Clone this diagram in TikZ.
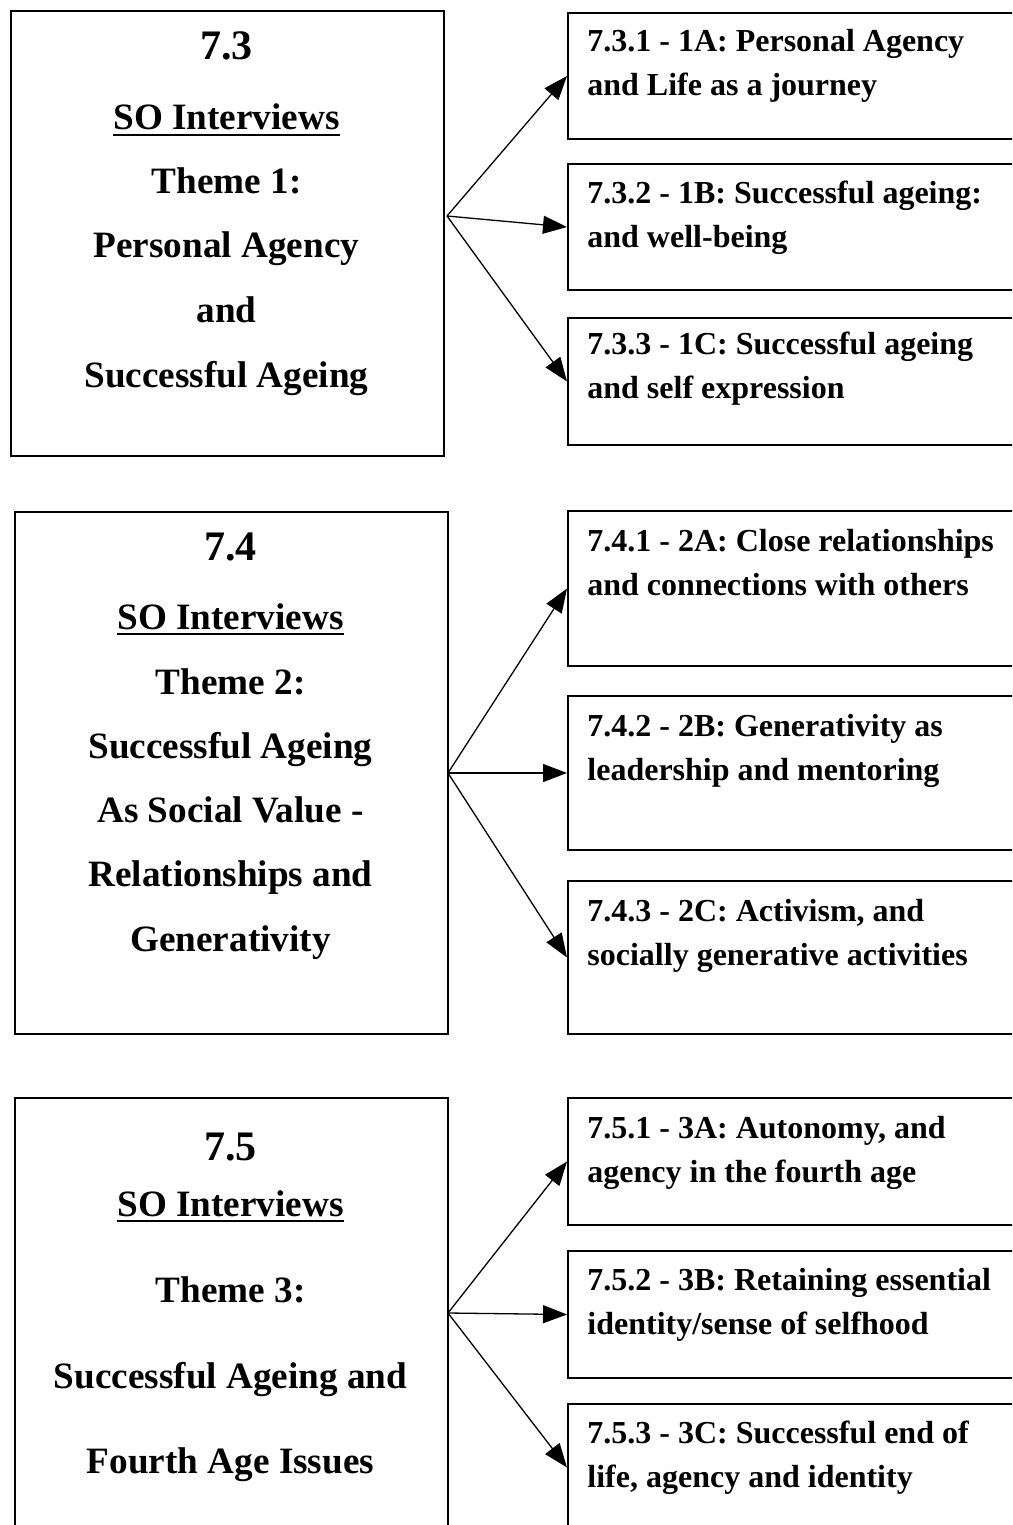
\documentclass[tikz,border=0pt]{standalone}
\usepackage{fontspec}
\setmainfont{Liberation Serif}
\usetikzlibrary{arrows.meta}

\newcommand{\thmline}[1]{\setbox0=\hbox{#1}\rlap{\rule[-2.8pt]{\wd0}{1pt}}\box0}

\tikzset{
  leftbox/.style={draw, line width=1pt, minimum width=216.5pt, anchor=north west, inner sep=0pt},
  subbox/.style={draw, line width=1pt, minimum width=231.5pt, anchor=north west, inner sep=0pt},
  headtxt/.style={font=\bfseries\fontsize{21}{24}\selectfont, anchor=base, inner sep=0pt},
  themetxt/.style={font=\bfseries\fontsize{18.6}{22}\selectfont, anchor=base, inner sep=0pt},
  subtxt/.style={font=\bfseries\fontsize{16}{20}\selectfont, anchor=base west, inner sep=0pt},
  link/.style={->, >={Triangle[length=12pt,width=9pt]}, line width=0.65pt}
}

\begin{document}
\begin{tikzpicture}[x=0.5pt,y=-0.5pt]
\useasboundingbox (0,0) rectangle (1012,1525);
\clip (0,0) rectangle (1012,1525);

% theme boxes
\node[leftbox, minimum height=222.5pt] (th1) at (10,10) {};
\node[leftbox, minimum height=261pt] (th2) at (14,511) {};
\node[leftbox, minimum height=261pt] (th3) at (14,1097) {};

% theme 1
\node[headtxt] (th1-0) at (226.5,60) {7.3};
\node[themetxt] (th1-1) at (226.5,130) {\thmline{SO Interviews}};
\node[themetxt] (th1-2) at (226.5,193) {Theme 1:};
\node[themetxt] (th1-3) at (226.5,257) {Personal Agency};
\node[themetxt] (th1-4) at (226.5,322) {and};
\node[themetxt] (th1-5) at (226.5,387) {Successful Ageing};

% theme 2
\node[headtxt] (th2-0) at (230.5,560) {7.4};
\node[themetxt] (th2-1) at (230.5,629) {\thmline{SO Interviews}};
\node[themetxt] (th2-2) at (230.5,694) {Theme 2:};
\node[themetxt] (th2-3) at (230.5,758) {Successful Ageing};
\node[themetxt] (th2-4) at (230.5,822) {As Social Value -};
\node[themetxt] (th2-5) at (230.5,886) {Relationships and};
\node[themetxt] (th2-6) at (230.5,951) {Generativity};

% theme 3
\node[headtxt] (th3-0) at (230.5,1160) {7.5};
\node[themetxt] (th3-1) at (230.5,1216) {\thmline{SO Interviews}};
\node[themetxt] (th3-2) at (230.5,1302) {Theme 3:};
\node[themetxt] (th3-3) at (230.5,1388) {Successful Ageing and};
\node[themetxt] (th3-4) at (230.5,1473) {Fourth Age Issues};

% sub-theme boxes
\node[subbox, minimum height=63pt] (r11) at (567,12) {};
\node[subbox, minimum height=63pt] (r12) at (567,163) {};
\node[subbox, minimum height=63.5pt] (r13) at (567,317) {};
\node[subbox, minimum height=77.5pt] (r21) at (567,510) {};
\node[subbox, minimum height=77pt] (r22) at (567,695) {};
\node[subbox, minimum height=76.5pt] (r23) at (567,880) {};
\node[subbox, minimum height=63.5pt] (r31) at (567,1097) {};
\node[subbox, minimum height=63.5pt] (r32) at (567,1250) {};
\node[subbox, minimum height=63.5pt] (r33) at (567,1403) {};

\foreach \n/\y/\a/\b in {
  r11/52/{7.3.1 - 1A: Personal Agency}/{and Life as a journey},
  r12/203/{7.3.2 - 1B: Successful ageing:}/{and well-being},
  r13/354/{7.3.3 - 1C: Successful ageing}/{and self expression},
  r21/551/{7.4.1 - 2A: Close relationships}/{and connections with others},
  r22/736/{7.4.2 - 2B: Generativity as}/{leadership and mentoring},
  r23/921/{7.4.3 - 2C: Activism, and}/{socially generative activities},
  r31/1138/{7.5.1 - 3A: Autonomy, and}/{agency in the fourth age},
  r32/1290/{7.5.2 - 3B: Retaining essential}/{identity/sense of selfhood},
  r33/1443/{7.5.3 - 3C: Successful end of}/{life, agency and identity}}
{
  \node[subtxt] (\n-a) at (587,\y) {\a};
  \node[subtxt] (\n-b) at (587,\y+44) {\b};
}

% fan-out points
\coordinate (o1) at (447,216);
\coordinate (o2) at (448,773);
\coordinate (o3) at (448,1313);

\foreach \from/\to in {o1/r11,o1/r12,o1/r13,o2/r21,o2/r22,o2/r23,o3/r31,o3/r32,o3/r33}
\draw[link] (\from) -- (\to.west);
\end{tikzpicture}
\end{document}
